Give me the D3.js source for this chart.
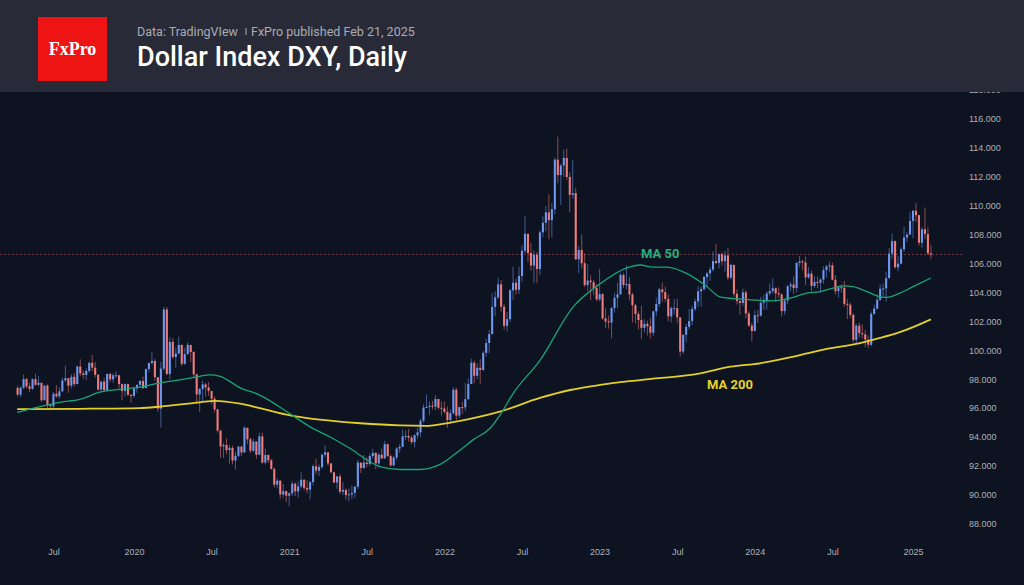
<!DOCTYPE html>
<html>
<head>
<meta charset="utf-8">
<title>Dollar Index DXY, Daily</title>
<script src="https://cdn.jsdelivr.net/npm/d3@7/dist/d3.min.js"></script>
<style>
  html, body { margin: 0; padding: 0; background: #0d1320; }
  svg { display: block; }
</style>
</head>
<body>
<svg id="chart" width="1024" height="585"></svg>
<script>
// weekly candles, one row per week: [high, low, close]; open = previous close
var firstOpen = 97.39;
var firstWeek = "2019-04-08";

var w2019 = [
  [97.55,96.80,96.93],[97.50,96.75,97.41],[98.32,97.30,98.01],[98.10,97.35,97.50],
  [97.75,97.10,97.33],[98.05,97.25,98.00],[98.37,97.55,97.61],[98.20,97.50,97.75],
  [97.75,96.45,96.54],[97.60,96.55,97.55],[97.65,96.00,96.20],[96.30,95.85,96.13],
  [97.10,95.95,96.99],[97.58,96.70,96.81],[97.45,96.65,97.16],[98.10,97.10,97.92],
  [98.93,97.80,98.07],[97.95,97.05,97.55],[98.35,97.35,98.16],[98.45,97.50,97.66],
  [98.95,97.65,98.87],[99.37,98.20,98.40],[98.60,98.00,98.29],[98.75,97.95,98.57],
  [99.20,98.45,99.13],[99.67,98.55,98.80],[99.20,98.10,98.30],[98.35,97.20,97.28],
  [97.90,97.15,97.83],[98.10,97.10,97.24],[98.40,97.15,98.36],[98.45,97.80,97.99],
  [98.40,97.75,98.27],[98.55,98.10,98.27],[98.30,97.35,97.66],[97.70,96.55,97.18],
  [97.70,96.80,97.66],[97.70,96.85,96.92]
];
var w2020 = [
  [96.95,96.36,96.84],[97.50,96.70,97.36],[97.62,97.05,97.61],[97.95,97.40,97.87],
  [98.19,97.30,97.39],[98.75,97.35,98.69],[99.14,98.50,99.12],[99.91,99.00,99.26],
  [99.40,97.90,98.13],[98.15,95.75,95.96],[99.20,94.65,98.73],[103.00,98.60,102.82],
  [102.99,98.27,98.36],[100.90,98.00,100.58],[100.85,99.40,99.53],[100.20,98.80,99.78],
  [100.93,99.70,100.37],[100.40,98.90,99.06],[100.20,99.00,99.73],[100.56,99.70,100.37],
  [100.20,99.20,99.88],[99.95,98.10,98.34],[98.35,96.42,96.94],[97.40,95.71,97.32],
  [97.90,96.40,97.64],[97.75,96.80,97.43],[97.80,96.85,97.18],[97.20,96.25,96.65],
  [96.80,95.70,95.91],[95.95,94.30,94.44],[94.50,92.55,93.35],[93.60,92.55,93.44],
  [93.90,92.80,93.09],[93.45,92.15,93.25],[93.40,92.10,92.37],[93.00,91.75,92.70],
  [93.40,92.60,93.33],[93.40,92.70,92.93],[94.74,92.90,94.64],[94.60,93.50,93.84],
  [93.95,92.90,93.05],[93.90,92.95,93.68],[93.70,92.50,92.77],[94.30,92.75,94.04],
  [94.30,92.15,92.23],[93.20,92.10,92.75],[92.80,92.20,92.39],[92.50,91.75,91.79],
  [91.90,90.50,90.70],[91.15,90.45,90.98],[91.00,89.72,90.02],[90.75,89.80,90.25]
];
var w2021 = [
  [90.30,89.50,89.94],[90.20,89.21,90.10],[90.95,89.90,90.77],[90.85,89.90,90.24],
  [90.95,89.80,90.58],[91.60,90.45,91.04],[91.10,90.30,90.48],[91.00,90.10,90.36],
  [90.95,89.68,90.88],[92.10,90.65,91.98],[92.50,91.40,91.67],[92.10,91.30,91.92],
  [92.85,91.80,92.77],[93.44,92.60,92.94],[92.95,92.00,92.17],[92.20,91.50,91.56],
  [91.60,90.80,90.85],[91.30,90.42,91.27],[91.43,90.05,90.21],[90.90,89.98,90.33],
  [90.45,89.65,89.98],[90.45,89.53,90.03],[90.63,89.70,90.13],[90.60,89.80,90.56],
  [92.41,90.40,92.23],[92.20,91.50,91.85],[92.75,91.80,92.23],[92.60,91.90,92.13],
  [92.85,92.00,92.68],[93.20,92.50,92.90],[92.95,91.78,92.17],[92.90,91.90,92.78],
  [93.20,92.45,92.52],[93.73,92.50,93.50],[93.55,92.60,92.68],[92.80,91.95,92.03],
  [92.70,92.00,92.58],[93.30,92.40,93.20],[93.50,92.90,93.32],[94.50,93.30,94.04],
  [94.45,93.80,94.07],[94.56,93.70,93.96],[94.10,93.50,93.64],[94.20,93.28,94.12],
  [94.63,93.90,94.32],[95.27,94.00,95.12],[96.25,95.00,96.03],[96.94,96.00,96.08],
  [96.45,95.52,96.16],[96.50,95.90,96.10],[96.90,95.85,96.63],[96.60,95.90,96.02],
  [96.45,95.50,95.97]
];
var w2022 = [
  [96.46,95.60,95.74],[96.10,94.63,95.17],[95.90,94.90,95.64],[97.44,95.55,97.27],
  [97.40,95.14,95.48],[96.10,95.30,96.07],[96.44,95.60,96.05],[97.74,95.80,96.61],
  [98.05,96.60,97.66],[99.42,97.70,99.13],[99.29,97.72,98.23],[99.10,98.00,98.79],
  [99.40,97.69,98.63],[99.95,98.58,99.82],[100.80,99.57,100.50],[101.40,99.80,101.12],
  [103.94,101.10,103.00],[104.07,102.35,103.66],[105.01,103.55,104.56],[104.86,102.67,103.01],
  [103.21,101.43,101.69],[102.65,101.30,102.15],[104.25,101.95,104.15],[105.79,103.45,104.67],
  [104.95,103.85,104.19],[105.79,103.90,105.14],[107.27,104.75,106.89],[109.29,106.73,108.06],
  [108.00,106.10,106.73],[107.43,105.50,105.86],[106.93,104.64,106.61],[106.80,104.64,105.62],
  [108.27,105.20,108.16],[109.27,107.80,108.82],[109.98,108.25,109.54],[110.79,107.68,109.00],
  [110.20,107.80,109.76],[113.34,109.40,113.19],[114.78,111.56,112.12],[112.90,110.05,112.78],
  [113.88,112.00,113.31],[113.95,111.80,111.99],[112.30,109.53,110.75],[113.15,110.50,110.87],
  [111.20,106.27,106.29],[107.20,105.34,106.94],[107.99,105.65,106.02],[106.70,104.38,104.51],
  [105.94,104.12,104.82],[105.19,103.47,104.71],[104.86,103.80,104.31],[104.59,103.40,103.52]
];
var w2023 = [
  [105.63,103.38,103.89],[103.95,102.10,102.20],[102.90,101.53,102.00],[102.40,101.50,101.92],
  [103.00,100.82,102.92],[103.96,102.60,103.63],[104.67,102.90,103.87],[105.36,103.85,105.21],
  [105.36,104.32,104.52],[105.88,104.24,104.58],[105.06,103.45,103.86],[103.99,101.92,103.12],
  [103.23,101.86,102.51],[102.70,101.42,102.09],[103.06,100.79,101.55],[102.17,101.23,101.83],
  [102.06,101.03,101.66],[102.24,100.80,101.21],[102.74,101.00,102.69],[103.63,102.34,103.20],
  [104.32,103.00,104.21],[104.70,103.37,104.02],[104.40,103.35,103.55],[103.87,102.00,102.34],
  [103.05,101.92,102.91],[103.55,102.48,102.91],[103.57,101.87,102.27],[102.30,99.58,99.91],
  [101.10,99.74,101.07],[101.84,100.55,101.62],[102.84,101.45,102.02],[103.07,101.74,102.85],
  [103.59,102.70,103.38],[104.44,103.00,104.08],[104.44,103.00,104.24],[105.16,104.10,105.07],
  [105.43,104.42,105.32],[105.78,104.80,105.58],[106.84,105.45,106.17],[107.35,105.97,106.04],
  [106.70,105.65,106.65],[106.78,105.87,106.16],[106.89,105.45,106.56],[107.11,104.84,105.02],
  [106.00,104.90,105.91],[105.90,103.70,103.91],[104.21,103.17,103.40],[103.55,102.46,103.27],
  [104.26,103.05,104.01],[104.15,102.21,102.55],[102.70,101.62,101.71],[101.92,100.62,101.33]
];
var w2024 = [
  [102.74,101.30,102.42],[102.80,101.89,102.40],[103.70,102.33,103.29],[103.82,102.79,103.43],
  [104.08,102.82,103.93],[104.60,103.78,104.10],[104.97,103.91,104.29],[104.35,103.36,103.94],
  [104.36,103.62,103.86],[103.94,102.35,102.71],[103.50,102.47,103.44],[104.49,103.20,104.43],
  [104.73,104.10,104.55],[105.10,103.88,104.30],[106.11,104.00,106.04],[106.52,105.75,106.15],
  [106.25,105.53,106.08],[106.49,104.52,105.04],[105.74,104.95,105.30],[105.51,104.08,104.45],
  [105.12,104.32,104.72],[105.10,104.30,104.67],[104.97,103.99,104.89],[105.80,104.60,105.55],
  [105.91,105.05,105.80],[106.13,105.40,105.87],[106.07,104.82,104.88],[105.20,103.85,104.09],
  [104.42,103.64,104.36],[104.55,104.00,104.32],[104.80,103.00,103.21],[103.55,102.16,103.15],
  [103.30,102.25,102.45],[102.55,100.53,100.72],[101.84,100.51,101.70],[101.92,100.87,101.18],
  [101.80,100.80,101.10],[101.40,100.21,100.74],[101.03,100.16,100.38],[102.69,100.26,102.52],
  [103.17,102.45,102.89],[103.87,102.82,103.49],[104.57,103.41,104.26],[104.63,103.72,104.28],
  [105.44,103.37,104.99],[107.07,104.98,106.69],[108.09,106.31,107.55],[107.60,105.65,105.74],
  [106.53,105.45,105.99],[107.12,105.93,106.99],[108.54,106.80,107.80],[108.16,107.50,108.00]
];
var w2025 = [
  [109.54,107.98,108.95],[109.72,107.75,109.65],[110.18,108.88,109.35],[109.36,107.21,107.44],
  [108.51,107.10,108.37],[109.88,107.68,108.04],[108.50,106.59,106.71],[107.30,106.30,106.63]
];

// moving averages: [date, value]
var ma50 = [
  ["2019-04-07",95.7],["2019-05-31",96.1],["2019-07-16",96.4],["2019-09-01",96.6],
  ["2019-10-18",97.1],["2019-12-04",97.3],["2020-01-20",97.45],["2020-03-07",97.75],
  ["2020-04-23",97.95],["2020-06-09",98.2],["2020-07-02",98.3],["2020-07-26",98.2],
  ["2020-09-11",97.4],["2020-10-27",96.9],["2021-01-06",95.6],["2021-02-22",94.7],
  ["2021-04-10",94.0],["2021-05-27",93.2],["2021-07-12",92.3],["2021-08-05",91.95],
  ["2021-09-21",91.75],["2021-11-07",91.75],["2021-12-24",92.1],["2022-02-09",93.1],
  ["2022-03-11",93.8],["2022-04-20",94.6],["2022-05-13",95.5],["2022-06-13",97.0],
  ["2022-08-15",99.3],["2022-11-01",103.0],["2023-01-03",104.6],["2023-03-07",105.7],
  ["2023-04-07",105.9],["2023-05-07",105.75],["2023-06-09",105.75],["2023-07-26",105.3],
  ["2023-09-11",104.4],["2023-10-11",103.7],["2023-11-27",103.55],["2024-01-13",103.45],
  ["2024-02-13",103.42],["2024-03-23",103.6],["2024-05-02",103.95],["2024-06-02",104.05],
  ["2024-07-02",104.3],["2024-07-26",104.45],["2024-08-18",104.4],["2024-09-20",104.05],
  ["2024-10-21",103.7],["2024-11-06",103.66],["2024-12-06",103.95],["2025-01-06",104.4],
  ["2025-02-17",105.0]
];
var ma200 = [
  ["2019-04-07",95.93],["2019-09-01",95.95],["2020-01-20",96.0],["2020-03-07",96.1],
  ["2020-06-09",96.4],["2020-07-14",96.5],["2020-09-11",96.3],["2020-10-27",96.0],
  ["2021-01-06",95.5],["2021-03-17",95.2],["2021-06-20",94.95],["2021-09-21",94.8],
  ["2021-11-19",94.77],["2022-01-17",95.0],["2022-03-04",95.25],["2022-05-13",95.75],
  ["2022-08-15",96.7],["2022-10-25",97.25],["2023-01-03",97.6],["2023-04-07",97.94],
  ["2023-08-26",98.4],["2023-11-05",98.86],["2024-01-13",99.1],["2024-03-23",99.5],
  ["2024-06-02",100.0],["2024-09-04",100.5],["2024-10-21",100.85],["2024-12-06",101.25],
  ["2025-02-17",102.14]
];

var yTicks = [88, 90, 92, 94, 96, 98, 100, 102, 104, 106, 108, 110, 112, 114, 116, 118];
var xTickMonths = [[2019,6],[2020,0],[2020,6],[2021,0],[2021,6],[2022,0],[2022,6],
  [2023,0],[2023,6],[2024,0],[2024,6],[2025,0]];

var svg = d3.select("#chart");
var parse = d3.timeParse("%Y-%m-%d");

// build candles
var rows = [].concat(w2019, w2020, w2021, w2022, w2023, w2024, w2025);
var start = parse(firstWeek);
var candles = rows.map(function(r, i) {
  return {
    date: d3.timeMonday.offset(start, i),
    open: i === 0 ? firstOpen : rows[i - 1][2],
    high: r[0], low: r[1], close: r[2]
  };
});
var lastPrice = candles[candles.length - 1].close;

// scales
var x = d3.scaleTime()
  .domain([new Date(2020, 0, 6), new Date(2025, 0, 6)])
  .range([134, 913]);
var y = d3.scaleLinear()
  .domain([88, 116])
  .range([523.7, 119]);

var step = x(new Date(2020, 0, 13)) - x(new Date(2020, 0, 6));
var bodyW = step * 0.7;

// background
svg.append("rect").attr("width", 1024).attr("height", 585).attr("fill", "#0d1320");

// y axis
var yAxis = svg.append("g")
  .attr("transform", "translate(969,0)")
  .call(d3.axisRight(y).tickValues(yTicks).tickFormat(d3.format(".3f")).tickSize(0).tickPadding(0));
yAxis.select(".domain").remove();
yAxis.selectAll("text")
  .attr("fill", "#aeb1ba")
  .attr("font-family", "Liberation Sans, Arial, sans-serif")
  .attr("font-size", 9);

// x axis
var xAxis = svg.append("g")
  .attr("transform", "translate(0,549)")
  .call(d3.axisBottom(x)
    .tickValues(xTickMonths.map(function(d) { return d3.timeMonday.ceil(new Date(d[0], d[1], 1)); }))
    .tickFormat(function(d) { return d.getMonth() < 6 ? d3.timeFormat("%Y")(d) : "Jul"; })
    .tickSize(0).tickPadding(0));
xAxis.select(".domain").remove();
xAxis.selectAll("text")
  .attr("fill", "#aeb1ba")
  .attr("font-family", "Liberation Sans, Arial, sans-serif")
  .attr("font-size", 9);

// last price line
svg.append("line")
  .attr("x1", 0).attr("x2", 962)
  .attr("y1", y(lastPrice)).attr("y2", y(lastPrice))
  .attr("stroke", "#7a3340")
  .attr("stroke-width", 1)
  .attr("stroke-dasharray", "2,2");

// candles
var up = "#7097ef", down = "#ef7b7b";
var g = svg.append("g");
g.selectAll("line.wick")
  .data(candles)
  .enter().append("line")
  .attr("class", "wick")
  .attr("x1", function(d) { return x(d.date); })
  .attr("x2", function(d) { return x(d.date); })
  .attr("y1", function(d) { return y(d.high); })
  .attr("y2", function(d) { return y(d.low); })
  .attr("stroke", function(d) { return d.close >= d.open ? up : down; })
  .attr("stroke-opacity", 0.55)
  .attr("stroke-width", 1);
g.selectAll("rect.body")
  .data(candles)
  .enter().append("rect")
  .attr("class", "body")
  .attr("x", function(d) { return x(d.date) - bodyW / 2; })
  .attr("width", bodyW)
  .attr("y", function(d) { return y(Math.max(d.open, d.close)); })
  .attr("height", function(d) { return Math.max(1, Math.abs(y(d.open) - y(d.close))); })
  .attr("fill", function(d) { return d.close >= d.open ? up : down; });

// moving averages
var maLine = d3.line()
  .x(function(d) { return x(parse(d[0])); })
  .y(function(d) { return y(d[1]); })
  .curve(d3.curveMonotoneX);

svg.append("path")
  .attr("d", maLine(ma200))
  .attr("fill", "none")
  .attr("stroke", "#e3cf2b")
  .attr("stroke-width", 1.8);
svg.append("path")
  .attr("d", maLine(ma50))
  .attr("fill", "none")
  .attr("stroke", "#1aa577")
  .attr("stroke-width", 1.3);

svg.append("text")
  .attr("x", 641).attr("y", 257.5)
  .attr("fill", "#22b07e")
  .attr("font-family", "Roboto, sans-serif")
  .attr("font-weight", "bold")
  .attr("font-size", 13)
  .text("MA 50");
svg.append("text")
  .attr("x", 707).attr("y", 388.5)
  .attr("fill", "#e6d22f")
  .attr("font-family", "Roboto, sans-serif")
  .attr("font-weight", "bold")
  .attr("font-size", 13)
  .text("MA 200");

// header
svg.append("rect").attr("width", 1024).attr("height", 92).attr("fill", "#282b37");
svg.append("rect")
  .attr("x", 38).attr("y", 17).attr("width", 69).attr("height", 64)
  .attr("fill", "#ef1414");
svg.append("text")
  .attr("x", 72.5).attr("y", 55)
  .attr("text-anchor", "middle")
  .attr("fill", "#ffffff")
  .attr("font-family", "Liberation Serif, Times New Roman, serif")
  .attr("font-weight", "bold")
  .attr("font-size", 18)
  .text("FxPro");

svg.append("text")
  .attr("x", 137).attr("y", 35.5)
  .attr("fill", "#a9acb6")
  .attr("font-family", "Roboto, sans-serif")
  .attr("font-size", 12.5)
  .text("Data: TradingVIew");
svg.append("line")
  .attr("x1", 246).attr("x2", 246).attr("y1", 28).attr("y2", 35)
  .attr("stroke", "#a9acb6").attr("stroke-width", 1);
svg.append("text")
  .attr("x", 251).attr("y", 35.5)
  .attr("fill", "#a9acb6")
  .attr("font-family", "Roboto, sans-serif")
  .attr("font-size", 12.5)
  .text("FxPro published Feb 21, 2025");

svg.append("text")
  .attr("x", 137).attr("y", 66)
  .attr("fill", "#ffffff")
  .attr("font-family", "Roboto, sans-serif")
  .attr("font-weight", 500)
  .attr("font-size", 27)
  .text("Dollar Index DXY, Daily");
</script>
</body>
</html>
